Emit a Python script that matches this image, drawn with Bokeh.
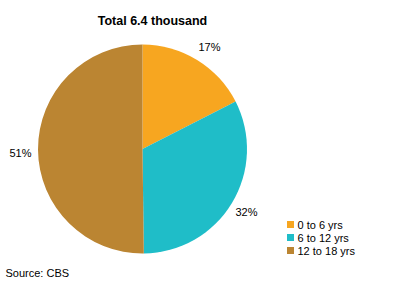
import math
from bokeh.plotting import figure
from bokeh.models import Range1d, ColumnDataSource
from bokeh.core.properties import value
from bokeh.embed import file_html
from bokeh.resources import INLINE

title = "Total 6.4 thousand"
categories = ["0 to 6 yrs", "6 to 12 yrs", "12 to 18 yrs"]
shares = [17.5, 32.3, 50.2]
pct_labels = ["17%", "32%", "51%"]
colors = ["#F7A620", "#1FBDC8", "#BB8532"]
source_note = "Source: CBS"

W, H = 396, 287
p = figure(width=W, height=H, output_backend="svg", toolbar_location=None,
           x_range=Range1d(0, W), y_range=Range1d(0, H), min_border=0)
p.axis.visible = False
p.grid.visible = False
p.outline_line_color = None
p.background_fill_color = "white"
p.border_fill_color = "white"

cx, cy, r = 142, H - 148.5, 104.5
total = sum(shares)
starts, ends = [], []
cum = 0.0
for s in shares:
    starts.append(math.pi / 2 - 2 * math.pi * cum / total)
    cum += s
    ends.append(math.pi / 2 - 2 * math.pi * cum / total)

src = ColumnDataSource(dict(start=starts, end=ends, color=colors))
p.wedge(x=cx, y=cy, radius=r, start_angle="start", end_angle="end",
        direction="clock", fill_color="color", line_color=None, source=src)

# percentage labels
lx = [209, 246, 20]
ly = [H - 46, H - 211, H - 152]
p.text(x=lx, y=ly, text=pct_labels, text_font=value("Liberation Sans"),
       text_font_size="11px", text_align="center", text_baseline="middle",
       text_color="black")

# title
p.text(x=[152], y=[H - 20], text=[title], text_font=value("Liberation Sans"),
       text_font_size="12.5px", text_font_style="bold", text_align="center",
       text_baseline="middle", text_color="black")

# legend
leg_y = [H - 224, H - 237, H - 250]
p.rect(x=[290] * 3, y=leg_y, width=7, height=7, fill_color=colors, line_color=None)
p.text(x=[297] * 3, y=leg_y, text=categories, text_font=value("Liberation Sans"),
       text_font_size="11px", text_align="left", text_baseline="middle",
       text_color="black")

# source
p.text(x=[5], y=[H - 272], text=[source_note], text_font=value("Liberation Sans"),
       text_font_size="11px", text_align="left", text_baseline="middle",
       text_color="black")

open("out.html", "w").write(file_html(p, INLINE))
